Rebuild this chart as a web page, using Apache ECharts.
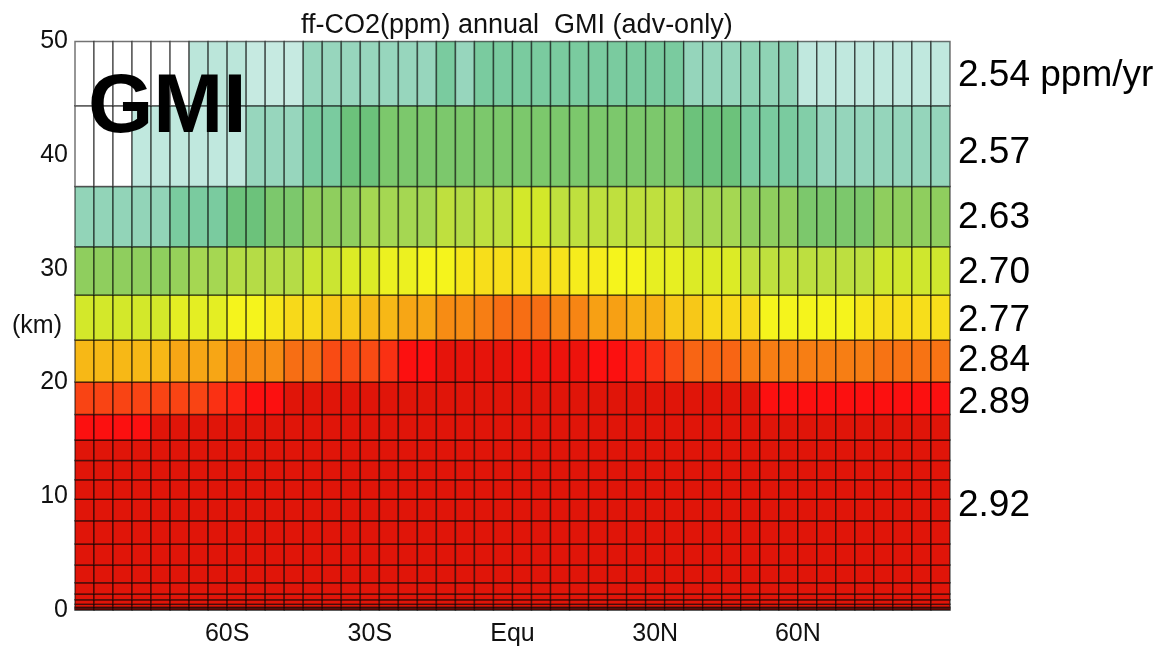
<!DOCTYPE html>
<html>
<head>
<meta charset="utf-8">
<script src="https://cdn.jsdelivr.net/npm/echarts@6/dist/echarts.min.js"></script>
<style>
  html, body { margin: 0; padding: 0; background: #fff; }
  #chart { width: 1167px; height: 647px; }
</style>
</head>
<body>
<div id="chart"></div>
<script>
// latitude centres of the GMI grid (4 deg)
const lats = [-90, -86, -82, -78, -74, -70, -66, -62, -58, -54, -50, -46, -42, -38, -34, -30,
  -26, -22, -18, -14, -10, -6, -2, 2, 6, 10, 14, 18, 22, 26, 30, 34, 38, 42, 46, 50, 54, 58,
  62, 66, 70, 74, 78, 82, 86, 90]
const latTickValues = [-60, -30, 0, 30, 60]
const latTickNames = ['60S', '30S', 'Equ', '30N', '60N']

// layer edges (km), bottom to top
const levelEdges = [0, 0.12, 0.25, 0.5, 0.9, 1.4, 2.4, 3.95, 5.8, 7.85, 9.75, 11.45, 13.15,
  14.95, 17.2, 20.05, 23.75, 27.7, 31.95, 37.25, 44.35, 50]

// ff-CO2 growth (ppm/yr) per layer, 46 latitudes each
// every layer below 15 km reads the same dark red
const below15km = [2.92, 2.92, 2.92, 2.92, 2.92, 2.92, 2.92, 2.92, 2.92, 2.92, 2.92, 2.92,
  2.92, 2.92, 2.92, 2.92, 2.92, 2.92, 2.92, 2.92, 2.92, 2.92, 2.92, 2.92, 2.92, 2.92, 2.92,
  2.92, 2.92, 2.92, 2.92, 2.92, 2.92, 2.92, 2.92, 2.92, 2.92, 2.92, 2.92, 2.92, 2.92, 2.92,
  2.92, 2.92, 2.92, 2.92]
const z15to17 = [2.898, 2.898, 2.898, 2.898, 2.92, 2.92, 2.92, 2.92, 2.92, 2.92, 2.92, 2.92,
  2.92, 2.92, 2.92, 2.92, 2.92, 2.92, 2.92, 2.92, 2.92, 2.92, 2.92, 2.92, 2.92, 2.92, 2.92,
  2.92, 2.92, 2.92, 2.92, 2.92, 2.92, 2.92, 2.92, 2.92, 2.92, 2.92, 2.92, 2.92, 2.92, 2.92,
  2.92, 2.92, 2.92, 2.92]
const z17to20 = [2.858, 2.858, 2.858, 2.858, 2.858, 2.858, 2.858, 2.868, 2.876, 2.898, 2.898,
  2.92, 2.92, 2.92, 2.92, 2.92, 2.92, 2.92, 2.92, 2.92, 2.92, 2.92, 2.92, 2.92, 2.92, 2.92,
  2.92, 2.92, 2.92, 2.92, 2.92, 2.92, 2.92, 2.92, 2.92, 2.92, 2.898, 2.898, 2.898, 2.898,
  2.898, 2.898, 2.898, 2.898, 2.898, 2.898]
const z20to24 = [2.78, 2.78, 2.78, 2.78, 2.78, 2.795, 2.795, 2.795, 2.815, 2.815, 2.815, 2.835,
  2.835, 2.854, 2.854, 2.854, 2.868, 2.898, 2.898, 2.915, 2.915, 2.915, 2.915, 2.91, 2.91,
  2.91, 2.91, 2.898, 2.898, 2.88, 2.868, 2.854, 2.84, 2.84, 2.84, 2.825, 2.825, 2.825, 2.825,
  2.825, 2.825, 2.825, 2.832, 2.832, 2.832, 2.832]
const z24to28 = [2.699, 2.699, 2.699, 2.699, 2.699, 2.71, 2.71, 2.71, 2.721, 2.721, 2.735,
  2.75, 2.75, 2.765, 2.765, 2.78, 2.78, 2.795, 2.795, 2.815, 2.815, 2.825, 2.835, 2.835, 2.835,
  2.82, 2.82, 2.8, 2.8, 2.787, 2.787, 2.765, 2.765, 2.75, 2.75, 2.75, 2.721, 2.721, 2.721,
  2.721, 2.721, 2.735, 2.745, 2.745, 2.745, 2.745]
const z28to32 = [2.633, 2.633, 2.633, 2.633, 2.633, 2.64, 2.655, 2.655, 2.668, 2.668, 2.668,
  2.668, 2.69, 2.69, 2.705, 2.705, 2.715, 2.715, 2.721, 2.721, 2.735, 2.745, 2.745, 2.745,
  2.745, 2.74, 2.73, 2.73, 2.721, 2.721, 2.712, 2.712, 2.705, 2.705, 2.705, 2.677, 2.677,
  2.677, 2.675, 2.675, 2.675, 2.675, 2.695, 2.695, 2.695, 2.695]
const z32to37 = [2.548, 2.548, 2.548, 2.548, 2.548, 2.566, 2.566, 2.566, 2.588, 2.588, 2.611,
  2.611, 2.633, 2.633, 2.633, 2.655, 2.655, 2.655, 2.655, 2.677, 2.668, 2.677, 2.677, 2.699,
  2.699, 2.677, 2.677, 2.677, 2.677, 2.677, 2.677, 2.677, 2.655, 2.655, 2.655, 2.633, 2.633,
  2.633, 2.611, 2.611, 2.611, 2.611, 2.633, 2.633, 2.633, 2.633]
const z37to44 = [2.5, 2.5, 2.5, 2.522, 2.522, 2.522, 2.522, 2.522, 2.522, 2.544, 2.544, 2.544,
  2.566, 2.566, 2.588, 2.588, 2.611, 2.611, 2.611, 2.611, 2.611, 2.611, 2.611, 2.611, 2.611,
  2.611, 2.611, 2.611, 2.611, 2.611, 2.611, 2.611, 2.588, 2.588, 2.588, 2.566, 2.566, 2.566,
  2.56, 2.546, 2.546, 2.546, 2.546, 2.546, 2.546, 2.546]
const z44to50 = [2.5, 2.5, 2.5, 2.5, 2.5, 2.5, 2.525, 2.525, 2.525, 2.52, 2.52, 2.52, 2.544,
  2.544, 2.544, 2.544, 2.544, 2.544, 2.544, 2.566, 2.544, 2.566, 2.566, 2.566, 2.566, 2.566,
  2.566, 2.566, 2.566, 2.566, 2.566, 2.566, 2.546, 2.546, 2.546, 2.55, 2.55, 2.55, 2.522,
  2.522, 2.522, 2.522, 2.522, 2.522, 2.522, 2.522]

// layer means written at the right side
const layerMeans = [2.54, 2.57, 2.63, 2.70, 2.77, 2.84, 2.89, 2.92]
const layerMeanHeights = [47.0, 40.2, 34.5, 29.7, 25.4, 21.9, 18.2, 9.2]

const palette = ['#ffffff', '#c0e8de', '#97d6bd', '#7acb9f', '#6cc27a', '#7cc86c', '#8fce5e',
  '#a5d752', '#bfe03e', '#d3e82a', '#f5f41c', '#f7e01b', '#f7c818', '#f7b015', '#f79414',
  '#f77414', '#f94c14', '#fb2212', '#fc1010', '#e01509']

const levelRows = [below15km, below15km, below15km, below15km, below15km, below15km,
  below15km, below15km, below15km, below15km, below15km, below15km, below15km,
  z15to17, z17to20, z20to24, z24to28, z28to32, z32to37, z37to44, z44to50]

const cells = []
levelRows.forEach((row, k) => {
  row.forEach((v, i) => {
    cells.push([lats[i], levelEdges[k], levelEdges[k + 1], v])
  })
})
const latStep = lats[1] - lats[0]
const font = '"Liberation Sans", Arial, sans-serif'

const chart = echarts.init(document.getElementById('chart'))
chart.setOption({
  animation: false,
  textStyle: { fontFamily: font },
  title: {
    text: 'ff-CO2(ppm) annual  GMI (adv-only)',
    left: 296,
    top: 7,
    textStyle: { fontSize: 27, fontWeight: 'normal', color: '#111', fontFamily: font }
  },
  grid: { left: 75, right: 217, top: 41.5, bottom: 37, outerBoundsMode: 'none' },
  xAxis: {
    type: 'value',
    min: lats[0] - latStep / 2,
    max: lats[lats.length - 1] + latStep / 2,
    splitLine: { show: false },
    axisTick: { show: false },
    axisLine: { lineStyle: { color: '#808080', width: 1.5 } },
    axisLabel: {
      customValues: latTickValues,
      formatter: (v) => latTickNames[latTickValues.indexOf(v)],
      fontSize: 25,
      color: '#111',
      margin: 12
    }
  },
  yAxis: {
    type: 'value',
    min: 0,
    max: 50,
    interval: 10,
    name: '(km)',
    nameLocation: 'middle',
    nameRotate: 0,
    nameGap: 13,
    nameMoveOverlap: false,
    nameTextStyle: { fontSize: 25, color: '#111' },
    splitLine: { show: false },
    axisTick: { show: false },
    axisLine: { lineStyle: { color: '#808080', width: 1.5 } },
    axisLabel: { fontSize: 25, color: '#111', margin: 7 }
  },
  visualMap: {
    show: false,
    type: 'continuous',
    seriesIndex: 0,
    dimension: 3,
    min: 2.5,
    max: 2.92,
    inRange: { color: palette }
  },
  graphic: [{
    type: 'text',
    left: 88,
    top: 67,
    z: 100,
    style: { text: 'GMI', font: 'bold 84px ' + font, fill: '#000' }
  }],
  series: [
    {
      type: 'custom',
      data: cells,
      encode: { x: 0, y: [1, 2] },
      renderItem: function (params, api) {
        const lat = api.value(0)
        const p0 = api.coord([lat - latStep / 2, api.value(2)])
        const p1 = api.coord([lat + latStep / 2, api.value(1)])
        return {
          type: 'rect',
          shape: { x: p0[0], y: p0[1], width: p1[0] - p0[0], height: p1[1] - p0[1] },
          style: { fill: api.visual('color'), stroke: 'rgba(0,0,0,0.55)', lineWidth: 1.5 }
        }
      }
    },
    {
      // layer means, right of the plot
      type: 'scatter',
      symbolSize: 0,
      silent: true,
      clip: false,
      itemStyle: { opacity: 1 },
      data: layerMeans.map((m, i) => [lats[lats.length - 1] + latStep / 2, layerMeanHeights[i], m]),
      label: {
        show: true,
        position: 'right',
        distance: 8,
        fontSize: 37,
        color: '#000',
        formatter: (p) => p.value[2].toFixed(2) + (p.dataIndex === 0 ? ' ppm/yr' : '')
      }
    }
  ]
})
</script>
</body>
</html>
